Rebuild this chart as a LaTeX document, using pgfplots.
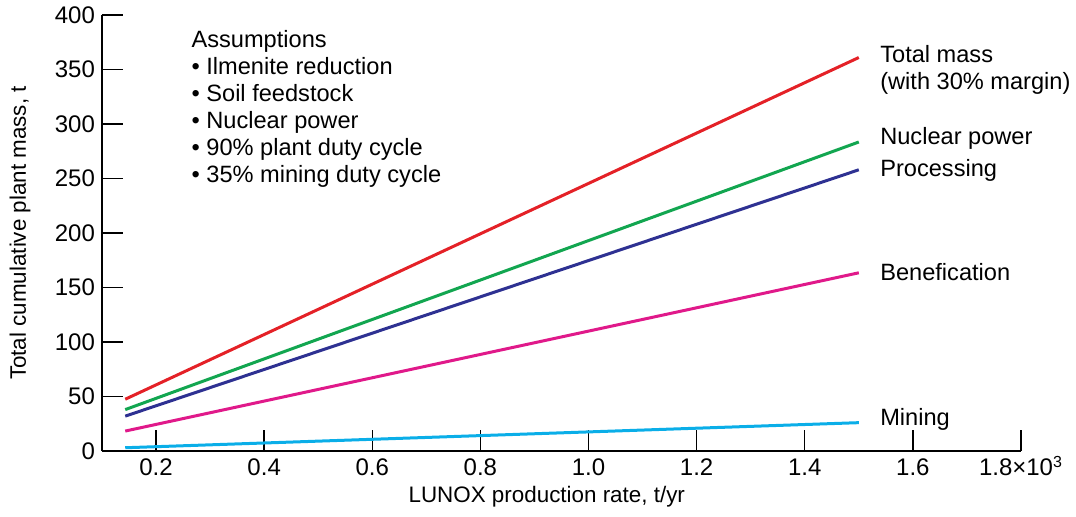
\documentclass[border=0pt]{standalone}
\usepackage{pgfplots}
\pgfplotsset{compat=1.18}
\usepackage{fontspec}
\setmainfont{Liberation Sans}
\definecolor{cTotal}{HTML}{E42127}
\definecolor{cNuc}{HTML}{12A650}
\definecolor{cProc}{HTML}{2E3192}
\definecolor{cBen}{HTML}{E0198A}
\definecolor{cMin}{HTML}{0AAEE8}
\begin{document}
\begin{tikzpicture}
\useasboundingbox (-51pt,-32.5pt) rectangle (487pt,225.5pt);
\begin{axis}[
  scale only axis,
  width=459.5pt, height=218pt,
  xmin=0.1, xmax=1.8, ymin=0, ymax=400,
  axis x line*=bottom, axis y line*=left,
  axis line style={line width=0.7pt},
  tick style={line width=0.7pt, black},
  tick align=inside,
  major tick length=10.5pt,
  xtick={0.2,0.4,0.6,0.8,1.0,1.2,1.4,1.6,1.8},
  xticklabels={0.2,0.4,0.6,0.8,1.0,1.2,1.4,1.6,{1.8×10\textsuperscript{3}}},
  ytick={0,50,100,150,200,250,300,350,400},
  /pgf/number format/assume math mode=true,
  tick label style={font=\fontsize{12}{14}\selectfont},
  xticklabel style={text height=1.5ex, text depth=0.2ex, yshift=-1pt},
  label style={font=\fontsize{11.2}{13}\selectfont},
  xlabel={LUNOX production rate, t/yr},
  ylabel={Total cumulative plant mass, t},
  xlabel style={at={(axis description cs:0.484,-0.1055)}, anchor=center},
  ylabel style={at={(axis description cs:-0.0892,0.5)}, anchor=center, rotate=0},
  clip=false,
]
\addplot[cTotal, line width=1.5pt] coordinates {(0.143,47.5) (1.5,361)};
\addplot[cNuc, line width=1.5pt] coordinates {(0.143,38) (1.5,283.5)};
\addplot[cProc, line width=1.5pt] coordinates {(0.143,32) (1.5,258)};
\addplot[cBen, line width=1.5pt] coordinates {(0.143,18.3) (1.5,163.5)};
\addplot[cMin, line width=1.5pt] coordinates {(0.143,3) (1.5,26)};
\begin{scope}[every node/.style={font=\fontsize{11.8}{13.5}\selectfont, inner sep=0pt, align=left}]
\node[anchor=west] at (axis cs:1.539,350) {Total mass\\(with 30\% margin)};
\node[anchor=west] at (axis cs:1.539,287) {Nuclear power};
\node[anchor=west] at (axis cs:1.539,257) {Processing};
\node[anchor=west] at (axis cs:1.539,164) {Benefication};
\node[anchor=west] at (axis cs:1.539,29) {Mining};
\node[anchor=north west] at (axis cs:0.265,386) {Assumptions\\• Ilmenite reduction\\• Soil feedstock\\• Nuclear power\\• 90\% plant duty cycle\\• 35\% mining duty cycle};
\end{scope}
\end{axis}
\end{tikzpicture}
\end{document}
